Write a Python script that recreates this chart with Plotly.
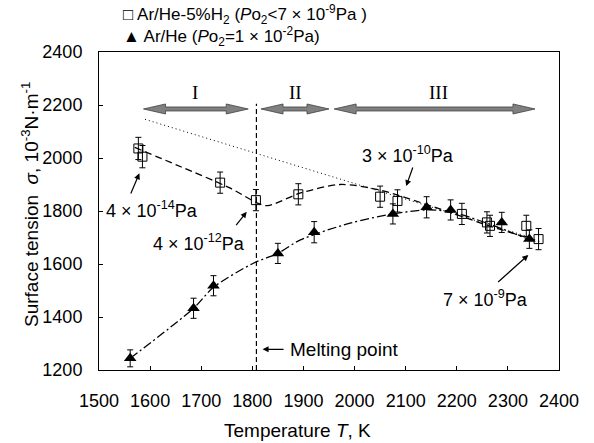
import plotly.graph_objects as go

# ---------------- data ----------------
# Ar/He-5%H2 (open squares)
sq_T = [1577, 1585, 1737, 1807, 1890, 2050, 2084, 2210, 2259, 2265, 2336, 2360]
sq_sigma = [2036, 2005, 1907, 1841, 1863, 1854, 1838, 1789, 1757, 1744, 1744, 1694]
sq_err = [42, 42, 40, 40, 40, 40, 42, 40, 40, 40, 40, 40]

# Ar/He (filled triangles)
tr_T = [1561, 1685, 1724, 1850, 1921, 2075, 2141, 2188, 2288, 2342]
tr_sigma = [1244, 1433, 1518, 1640, 1720, 1789, 1814, 1804, 1757, 1694]
tr_err = [32, 38, 38, 38, 40, 38, 40, 38, 38, 35]

# dashed fitted curve through squares
fitA_T = [1570, 1660, 1756, 1810, 1830, 1893, 1972, 2050, 2154, 2259, 2362]
fitA_sigma = [2040, 1967, 1887, 1830, 1820, 1867, 1900, 1879, 1816, 1747, 1685]

# dash-dot fitted curve through triangles
fitB_T = [1561, 1685, 1724, 1802, 1850, 1893, 1991, 2075, 2141, 2188, 2259, 2342]
fitB_sigma = [1244, 1433, 1512, 1603, 1640, 1690, 1754, 1789, 1804, 1797, 1754, 1692]

# dotted straight line
dot_T = [1590, 2350]
dot_sigma = [2146, 1697]

# melting point
melt_T = 1808
melt_top = 2205

# regions (double arrows)
region_labels = ["I", "II", "III"]
region_start = [1587, 1817, 1960]
region_end = [1792, 1950, 2353]
region_label_T = [1687, 1884, 2164]
region_arrow_y = 2185
region_label_y = 2248

x_ticks = [1500, 1600, 1700, 1800, 1900, 2000, 2100, 2200, 2300, 2400]
y_ticks = [1200, 1400, 1600, 1800, 2000, 2200, 2400]

X = " × "
# pressure annotations: text, text position, arrow tail, arrow tip
ann_text = [f"4{X}10<sup>-14</sup>Pa", f"4{X}10<sup>-12</sup>Pa", f"3{X}10<sup>-10</sup>Pa", f"7{X}10<sup>-9</sup>Pa"]
ann_T = [1604, 1696, 2104, 2257]
ann_s = [1804, 1680, 2015, 1470]
ann_tail_T = [1561, 1766, 2115, 2278]
ann_tail_s = [1860, 1741, 1970, 1527]
ann_tip_T = [1579, 1789, 2101, 2340]
ann_tip_s = [1942, 1797, 1894, 1634]

# ---------------- figure ----------------
W, H = 594, 443
PL, PR, PT, PB = 99, 559, 52, 370      # plot area in window pixels
ML, MT = PL, PT
MR = W - PR
MB = H - PB
XR = [1500, 2400]
YR = [1200, 2400]
px_x = (XR[1] - XR[0]) / (PR - PL)   # K per pixel
px_y = (YR[1] - YR[0]) / (PB - PT)   # sigma per pixel


def paper_x(px):
    return (px - PL) / (PR - PL)


def paper_y(py):
    return (PB - py) / (PB - PT)


FONT = "Liberation Sans, Arial, sans-serif"

fig = go.Figure()

fig.add_trace(go.Scatter(x=dot_T, y=dot_sigma, mode="lines",
                         line=dict(color="black", width=1, dash="1px,3px"),
                         showlegend=False, hoverinfo="skip"))
fig.add_trace(go.Scatter(x=fitA_T, y=fitA_sigma, mode="lines",
                         line=dict(color="black", width=1.3, dash="7px,4px", shape="spline", smoothing=0.8),
                         showlegend=False, hoverinfo="skip"))
fig.add_trace(go.Scatter(x=fitB_T, y=fitB_sigma, mode="lines",
                         line=dict(color="black", width=1.3, dash="9px,3px,2px,3px", shape="spline", smoothing=0.8),
                         showlegend=False, hoverinfo="skip"))
fig.add_trace(go.Scatter(x=[melt_T, melt_T], y=[YR[0], melt_top], mode="lines",
                         line=dict(color="black", width=1.2, dash="5px,3px"),
                         showlegend=False, hoverinfo="skip"))

fig.add_trace(go.Scatter(x=sq_T, y=sq_sigma, mode="markers", name="Ar/He-5%H2",
                         marker=dict(symbol="square-open", size=9, color="black", line=dict(width=1)),
                         error_y=dict(type="data", array=sq_err, color="black", thickness=1, width=3),
                         showlegend=False))
fig.add_trace(go.Scatter(x=tr_T, y=tr_sigma, mode="markers", name="Ar/He",
                         marker=dict(symbol="triangle-up", size=11, color="black"),
                         error_y=dict(type="data", array=tr_err, color="black", thickness=1, width=3),
                         showlegend=False))

# block double arrows
shaft = 2.0 * px_y
head = 5.0 * px_y
hlen = 22 * px_x
for x0, x1 in zip(region_start, region_end):
    y = region_arrow_y
    path = (f"M {x0},{y} L {x0+hlen},{y+head} L {x0+hlen},{y+shaft} L {x1-hlen},{y+shaft} "
            f"L {x1-hlen},{y+head} L {x1},{y} L {x1-hlen},{y-head} L {x1-hlen},{y-shaft} "
            f"L {x0+hlen},{y-shaft} L {x0+hlen},{y-head} Z")
    fig.add_shape(type="path", path=path, xref="x", yref="y",
                  fillcolor="#808080", line=dict(color="#404040", width=0.8))

for lab, xt in zip(region_labels, region_label_T):
    fig.add_annotation(x=xt, y=region_label_y, text=lab, showarrow=False,
                       font=dict(family="Liberation Serif, Times New Roman, serif", size=19, color="black"))

# pressure annotations
for t, xt, yt, xa, ya, xh, yh in zip(ann_text, ann_T, ann_s, ann_tail_T, ann_tail_s, ann_tip_T, ann_tip_s):
    fig.add_annotation(x=xt, y=yt, text=t, showarrow=False,
                       font=dict(family=FONT, size=18, color="black"))
    fig.add_annotation(x=xh, y=yh, ax=xa, ay=ya, axref="x", ayref="y", text="",
                       showarrow=True, arrowhead=2, arrowsize=1, arrowwidth=1.2, arrowcolor="black")

# melting point label
fig.add_annotation(x=1870, y=1278, text="Melting point", showarrow=False, xanchor="left",
                   font=dict(family=FONT, size=19, color="black"))
fig.add_annotation(x=1820, y=1278, ax=1864, ay=1278, axref="x", ayref="y", text="",
                   showarrow=True, arrowhead=2, arrowsize=1, arrowwidth=1.2, arrowcolor="black")

# legend (as text)
fig.add_annotation(xref="paper", yref="paper", x=paper_x(121), y=paper_y(15),
                   xanchor="left", yanchor="middle", showarrow=False, align="left",
                   text=f"□ Ar/He-5%H<sub>2</sub> (<i>P</i>o<sub>2</sub><7{X}10<sup>-9</sup>Pa )",
                   font=dict(family=FONT, size=17, color="black"))
fig.add_annotation(xref="paper", yref="paper", x=paper_x(121), y=paper_y(37),
                   xanchor="left", yanchor="middle", showarrow=False, align="left",
                   text=f"▲ Ar/He (<i>P</i>o<sub>2</sub>=1{X}10<sup>-2</sup>Pa)",
                   font=dict(family=FONT, size=17, color="black"))

# axis titles
fig.add_annotation(xref="paper", yref="paper", x=paper_x(297), y=paper_y(430),
                   xanchor="center", yanchor="middle", showarrow=False,
                   text="Temperature <i>T</i>, K", font=dict(family=FONT, size=19, color="black"))
fig.add_annotation(xref="paper", yref="paper", x=paper_x(30), y=paper_y(205),
                   xanchor="center", yanchor="middle", showarrow=False, textangle=-90,
                   text="Surface tension  <i>σ</i>, 10<sup>-3</sup>N·m<sup>-1</sup>",
                   font=dict(family=FONT, size=19, color="black"))

fig.update_xaxes(range=XR, tickvals=x_ticks, ticks="inside", ticklen=4, tickcolor="black",
                 showline=True, linecolor="black", linewidth=1, mirror=True, showgrid=False,
                 zeroline=False, tickfont=dict(family=FONT, size=18, color="black"),
                 ticklabelstandoff=14)
fig.update_yaxes(range=YR, tickvals=y_ticks, ticks="inside", ticklen=4, tickcolor="black",
                 showline=True, linecolor="black", linewidth=1, mirror=True, showgrid=False,
                 zeroline=False, tickfont=dict(family=FONT, size=18, color="black"),
                 ticklabelstandoff=12)

fig.update_layout(width=W, height=H, margin=dict(l=ML, r=MR, t=MT, b=MB, autoexpand=False),
                  paper_bgcolor="white", plot_bgcolor="white", showlegend=False)

# remove the default page margin so the figure fills the window exactly
fig.write_html("out.html", config={"displayModeBar": False},
               post_script="document.body.style.margin='0px';")
